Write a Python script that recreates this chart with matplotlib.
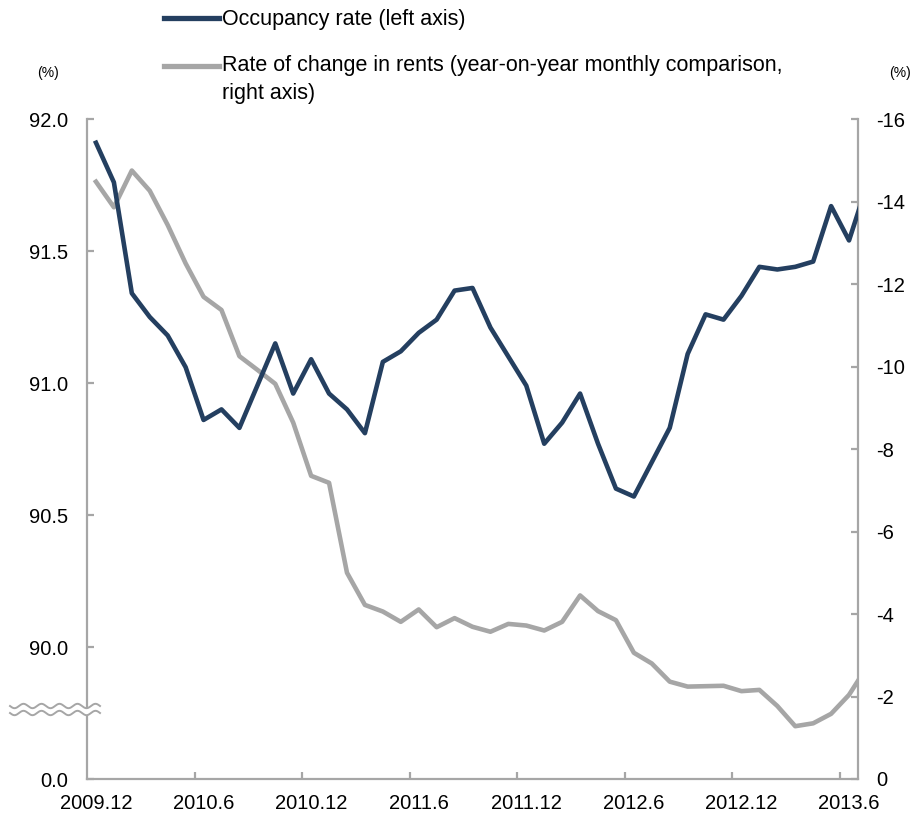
import numpy as np
import matplotlib
matplotlib.use("Agg")
import matplotlib.pyplot as plt
from matplotlib.lines import Line2D

plt.rcParams["font.family"] = ["Liberation Sans", "DejaVu Sans"]
plt.rcParams["axes.unicode_minus"] = False

# -----------------------------
# Data (monthly, 2009.12 - 2013.7)
# -----------------------------
occupancy = [
    91.91, 91.76, 91.34, 91.25, 91.18, 91.06, 90.86, 90.90, 90.83, 90.99,
    91.15, 90.96, 91.09, 90.96, 90.90, 90.81, 91.08, 91.12, 91.19, 91.24,
    91.35, 91.36, 91.21, 91.10, 90.99, 90.77, 90.85, 90.96, 90.77, 90.60,
    90.57, 90.70, 90.83, 91.11, 91.26, 91.24, 91.33, 91.44, 91.43, 91.44,
    91.46, 91.67, 91.54, 91.75,
]
rent_change = [
    -14.48, -13.86, -14.75, -14.26, -13.43, -12.50, -11.69, -11.37, -10.25, -9.92,
    -9.58, -8.64, -7.35, -7.18, -5.00, -4.22, -4.06, -3.81, -4.11, -3.68,
    -3.90, -3.69, -3.57, -3.76, -3.72, -3.60, -3.81, -4.45, -4.07, -3.85,
    -3.06, -2.80, -2.36, -2.24, -2.25, -2.26, -2.13, -2.16, -1.77, -1.28,
    -1.35, -1.58, -2.04, -2.72,
]
x_tick_labels = ["2009.12", "2010.6", "2010.12", "2011.6",
                 "2011.12", "2012.6", "2012.12", "2013.6"]
left_ticks = [89.5, 90.0, 90.5, 91.0, 91.5, 92.0]
left_tick_labels = ["0.0", "90.0", "90.5", "91.0", "91.5", "92.0"]
right_ticks = [0, -2, -4, -6, -8, -10, -12, -14, -16]

occ_label = "Occupancy rate (left axis)"
rent_label_1 = "Rate of change in rents (year-on-year monthly comparison,"
rent_label_2 = "right axis)"

# -----------------------------
# Style
# -----------------------------
NAVY = "#243F60"
GREY = "#A6A6A6"
AXIS_GREY = "#A6A6A6"
W, H = 916, 814


def fx(px):
    return px / W


def fy(py):
    return 1 - py / H


fig = plt.figure(figsize=(W / 100, H / 100), dpi=100)
ax = fig.add_axes([fx(87), fy(779), 771 / W, 660 / H])
ax2 = ax.twinx()

x = np.arange(len(occupancy))
ax2.plot(x, rent_change, color=GREY, lw=3.3)
ax.plot(x, occupancy, color=NAVY, lw=3.3)
ax.set_zorder(ax2.get_zorder() + 1)
ax.patch.set_visible(False)

ax.set_xlim(-0.5, 42.5)
ax.set_ylim(89.5, 92.0)
ax2.set_ylim(0, -16)

for s in ["top", "right"]:
    ax.spines[s].set_visible(False)
for s in ["top", "left", "bottom"]:
    ax2.spines[s].set_visible(False)
for s in ["left", "bottom"]:
    ax.spines[s].set_color(AXIS_GREY)
    ax.spines[s].set_linewidth(1.6)
ax2.spines["right"].set_color(AXIS_GREY)
ax2.spines["right"].set_linewidth(1.6)

# x axis: labels on categories, tick marks between categories
ax.set_xticks(np.arange(0, 43, 6), labels=x_tick_labels)
ax.set_xticks(np.arange(5.5, 42, 6), minor=True)
ax.tick_params(axis="x", which="major", length=0, pad=11, labelsize=14.5)
ax.tick_params(axis="x", which="minor", direction="in", length=5,
               width=1.6, color=AXIS_GREY)

ax.set_yticks(left_ticks, labels=left_tick_labels)
ax.tick_params(axis="y", direction="in", length=5, width=1.6,
               color=AXIS_GREY, pad=13.5, labelsize=14.5)
ax2.set_yticks(right_ticks, labels=[str(v) for v in right_ticks])
ax2.tick_params(axis="y", direction="in", length=5, width=1.6,
                color=AXIS_GREY, pad=13, labelsize=14.5)

# axis break marks on the left axis
t = np.linspace(10, 100, 300)
wave = 2.2 * np.sin(2 * np.pi * (t - 10) / 18)
upper = 706 + wave
lower = 713 + wave
fig.patches.append(plt.Polygon(
    np.column_stack([fx(np.r_[t, t[::-1]]), fy(np.r_[upper, lower[::-1]])]),
    closed=True, facecolor="white", edgecolor="none",
    transform=fig.transFigure, zorder=10))
for yy in (upper, lower):
    fig.add_artist(Line2D(fx(t), fy(yy), color=AXIS_GREY, lw=1.4,
                          transform=fig.transFigure, zorder=11))

# legend
fig.add_artist(Line2D([fx(164), fx(219)], [fy(18), fy(18)], color=NAVY,
                      lw=3.8, transform=fig.transFigure))
fig.add_artist(Line2D([fx(164), fx(219)], [fy(66), fy(66)], color=GREY,
                      lw=3.8, transform=fig.transFigure))
fig.text(fx(222), fy(19), occ_label, fontsize=15.5, va="center", ha="left")
fig.text(fx(222), fy(66), rent_label_1, fontsize=15.5, va="center", ha="left")
fig.text(fx(222), fy(93), rent_label_2, fontsize=15.5, va="center", ha="left")

# units
fig.text(fx(48), fy(73), "(%)", fontsize=10, ha="center", va="center")
fig.text(fx(900), fy(73), "(%)", fontsize=10, ha="center", va="center")

fig.savefig("out.png", dpi=100)
